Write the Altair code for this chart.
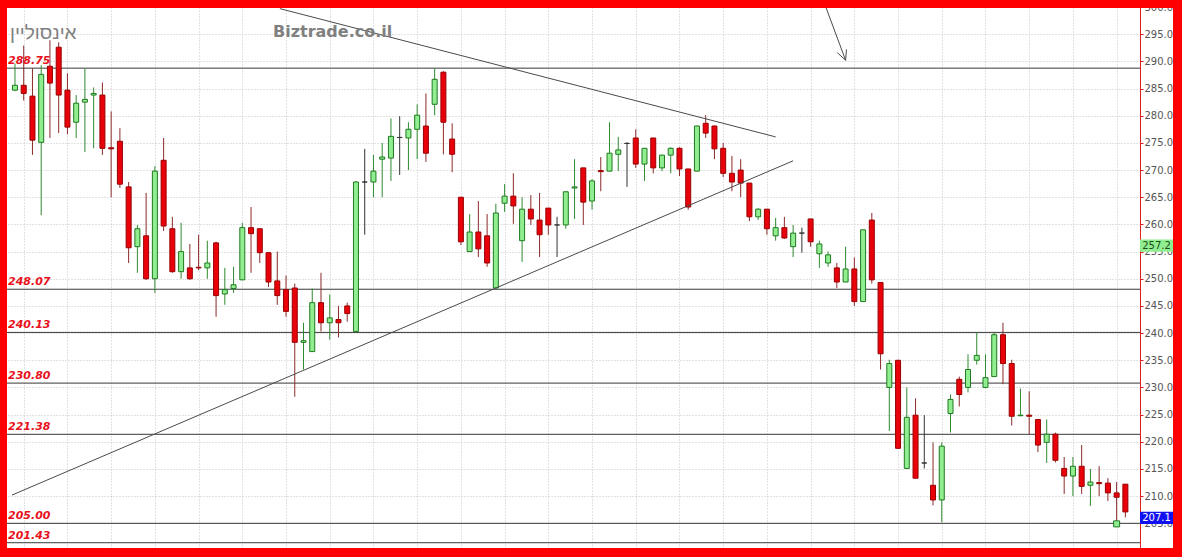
import altair as alt
import pandas as pd

# ---- daily candles (index, open, high, low, close) ----
opens = [284.7, 285.6, 283.6, 275.1, 289.1, 292.6, 284.7, 278.8, 282.5, 283.8,
         283.8, 274.1, 275.3, 266.9, 255.9, 257.9, 250.0, 271.8, 259.2, 251.3,
         252.0, 252.1, 252.0, 256.6, 247.2, 248.2, 249.8, 259.4, 259.2, 254.8,
         249.6, 248.0, 248.3, 238.3, 236.6, 245.6, 241.9, 242.5, 245.0, 240.3,
         267.8, 267.8, 272.0, 272.2, 276.0, 275.9, 277.5, 278.1, 282.1, 288.0,
         275.7, 265.0, 255.0, 258.6, 257.9, 248.3, 263.9, 265.2, 257.0, 262.8,
         260.8, 263.0, 259.9, 259.9, 266.7, 270.4, 264.3, 269.9, 269.8, 272.9,
         274.9, 275.9, 271.1, 275.9, 270.4, 272.75, 274.0, 270.2, 269.8, 278.6,
         278.1, 274.0, 269.4, 270.0, 267.6, 261.4, 262.8, 257.9, 259.4, 255.9,
         258.4, 261.0, 254.6, 252.9, 252.0, 249.4, 251.8, 245.8, 260.8, 249.3,
         230.0, 235.0, 215.1, 224.9, 216.1, 212.0, 209.3, 225.2, 231.5, 230.0,
         235.0, 230.0, 232.0, 239.7, 234.4, 224.8, 224.9, 224.1, 219.9, 221.4,
         215.1, 213.7, 215.5, 212.0, 212.5, 212.4, 210.6, 212.2]
highs = [289.6, 292.9, 288.7, 289.3, 293.9, 293.5, 287.8, 283.8, 288.7, 285.2,
         286.1, 280.8, 277.7, 267.8, 259.9, 265.8, 270.7, 275.9, 261.4, 260.3,
         256.4, 258.1, 257.0, 256.8, 252.0, 252.2, 260.3, 263.2, 259.2, 254.8,
         255.0, 250.6, 249.1, 241.9, 248.2, 251.1, 247.1, 245.0, 245.6, 268.0,
         273.9, 272.8, 275.0, 279.5, 279.9, 278.8, 282.1, 284.1, 288.7, 288.2,
         278.6, 265.0, 261.9, 264.3, 261.9, 263.8, 267.4, 269.4, 265.0, 265.4,
         265.8, 263.0, 261.4, 266.1, 272.0, 270.4, 268.3, 272.4, 278.8, 276.1,
         275.1, 277.5, 274.0, 275.9, 272.8, 274.2, 274.2, 270.2, 278.2, 280.1,
         278.2, 275.0, 272.6, 272.0, 267.6, 263.0, 262.8, 261.2, 261.4, 259.9,
         259.4, 261.0, 257.0, 255.0, 252.9, 255.9, 253.9, 259.0, 262.1, 249.3,
         235.1, 235.0, 230.0, 228.0, 224.9, 219.9, 219.9, 228.7, 232.0, 236.1,
         240.1, 236.1, 240.1, 241.9, 235.1, 229.8, 229.3, 224.1, 224.1, 221.7,
         217.2, 217.2, 219.4, 215.0, 215.5, 213.3, 212.6, 212.2]
lows = [284.5, 282.8, 272.8, 261.7, 275.9, 276.8, 276.6, 275.9, 273.3, 274.0,
        272.8, 265.0, 266.7, 252.9, 251.1, 249.8, 247.4, 258.8, 251.1, 250.0,
        249.8, 251.6, 250.0, 243.0, 245.2, 247.4, 249.8, 251.1, 252.9, 248.5,
        245.2, 243.0, 228.3, 233.3, 236.6, 240.3, 238.8, 239.2, 242.1, 240.2,
        258.1, 265.0, 265.0, 268.0, 269.1, 270.0, 272.0, 271.5, 280.1, 272.9,
        269.6, 256.2, 255.0, 254.0, 252.2, 248.2, 262.3, 260.1, 253.1, 259.9,
        254.0, 258.1, 254.0, 259.2, 261.0, 259.9, 262.7, 266.1, 269.8, 269.8,
        266.9, 270.4, 268.0, 269.4, 269.8, 269.4, 268.9, 262.7, 269.8, 275.9,
        272.0, 268.7, 266.1, 265.0, 260.6, 260.8, 258.1, 257.0, 257.3, 254.0,
        254.8, 255.9, 252.0, 252.2, 248.3, 249.4, 245.0, 245.8, 249.1, 233.3,
        222.0, 218.8, 215.1, 213.3, 215.1, 208.3, 205.2, 221.7, 226.5, 229.1,
        234.2, 230.0, 232.0, 230.6, 223.0, 224.7, 221.4, 218.1, 216.1, 216.2,
        210.4, 210.0, 210.4, 208.2, 210.0, 209.1, 204.7, 206.1]
closes = [285.6, 284.1, 275.5, 287.6, 286.0, 283.8, 277.9, 282.3, 283.0, 284.1,
          274.0, 273.9, 267.4, 255.7, 259.2, 250.0, 269.8, 259.7, 251.3, 255.0,
          250.0, 252.0, 252.9, 246.9, 248.0, 248.9, 259.4, 258.3, 254.8, 249.4,
          246.9, 244.0, 238.3, 238.6, 245.6, 241.9, 242.8, 241.9, 243.6, 267.8,
          267.8, 269.8, 272.4, 276.2, 276.0, 277.5, 280.1, 273.1, 286.7, 278.8,
          272.9, 256.8, 258.6, 255.5, 252.9, 262.1, 265.2, 263.4, 262.8, 261.0,
          258.1, 259.9, 259.9, 266.0, 266.9, 264.1, 268.0, 269.7, 273.1, 273.7,
          274.9, 271.1, 274.0, 270.4, 272.75, 274.0, 270.2, 263.2, 278.1, 276.8,
          273.9, 269.4, 267.8, 267.6, 261.4, 262.8, 259.2, 259.4, 257.5, 258.4,
          258.4, 256.8, 256.4, 254.4, 249.4, 251.8, 245.8, 259.0, 249.8, 236.2,
          234.4, 218.8, 224.5, 213.3, 216.1, 209.3, 219.2, 227.8, 228.7, 233.3,
          235.9, 231.8, 239.7, 234.4, 224.7, 224.9, 224.7, 219.4, 221.4, 216.6,
          213.7, 215.5, 211.8, 212.6, 212.3, 210.6, 209.8, 207.1]

# ---- horizontal support / resistance levels ----
levels = [288.75, 248.07, 240.13, 230.80, 221.38, 205.00, 201.43]
level_text = ["288.75", "248.07", "240.13", "230.80", "221.38", "205.00", "201.43"]

# ---- hand-drawn studies: (candle index, price) ----
rising_line_i = [-0.34, 89.0]
rising_line_v = [210.2, 271.7]
falling_line_i = [30.3, 87.0]
falling_line_v = [299.7, 276.1]
arrow_shaft_i = [92.6, 95.0]
arrow_shaft_v = [300.6, 290.2]
arrow_head_i = [94.05, 95.0, 95.1]
arrow_head_v = [291.6, 290.2, 292.2]

# ---- price flags on the scale ----
flag_values = [257.2, 207.1]
flag_text = ["257.2", "207.1"]
low_marker_i = [126]
low_marker_v = [204.9]

W, H = 1133, 541

candles = pd.DataFrame({"i": list(range(len(opens))), "open": opens, "high": highs,
                        "low": lows, "close": closes})
up_col = ("#90ee90", "#1f7a1f", "#2f8a2f")
dn_col = ("#e8000b", "#9a0000", "#8b2a2a")
fl_col = ("#444444", "#333333", "#333333")


def style(o, c):
    return up_col if c > o else (dn_col if c < o else fl_col)


candles["fill"] = [style(o, c)[0] for o, c in zip(opens, closes)]
candles["edge"] = [style(o, c)[1] for o, c in zip(opens, closes)]
candles["wick"] = [style(o, c)[2] for o, c in zip(opens, closes)]

x_scale = alt.Scale(domain=[-0.34, 128.1], nice=False, zero=False)
y_scale = alt.Scale(domain=[200.46, 300.0], nice=False, zero=False)
x_axis = alt.Axis(values=list(range(1, 128, 5)), labels=False, ticks=False, domain=False,
                  grid=True, gridColor="#c4c4c4", gridDash=[1, 2], title=None)
y_axis = alt.Axis(orient="right", values=list(range(205, 301, 5)), format=".1f",
                  grid=True, gridColor="#c4c4c4", gridDash=[1, 2],
                  domainColor="#e02020", tickColor="#e02020", tickSize=3,
                  labelPadding=1, labelFont="DejaVu Sans", labelFontSize=10,
                  labelColor="#555555", labelOverlap=False, title=None, zindex=0)


def X(f):
    return alt.X(f, type="quantitative", scale=x_scale, axis=x_axis)


def Y(f):
    return alt.Y(f, type="quantitative", scale=y_scale, axis=y_axis)


one = pd.DataFrame({"k": [0]})

level_df = pd.DataFrame({"level": levels, "txt": level_text})
level_rules = alt.Chart(level_df).mark_rule(color="#383838", strokeWidth=1).encode(y=Y("level"))
level_labels = alt.Chart(level_df).mark_text(
    align="left", baseline="alphabetic", dy=-4, font="DejaVu Sans", fontSize=11,
    fontWeight="bold", fontStyle="italic", color="#e8101a"
).encode(x=alt.value(1), y=Y("level"), text="txt:N")

wicks = alt.Chart(candles).mark_rule(strokeWidth=1).encode(
    x=X("i"), y=Y("low"), y2="high", color=alt.Color("wick:N", scale=None))
bodies = alt.Chart(candles).mark_bar(size=5, strokeWidth=1).encode(
    x=X("i"), y=Y("open"), y2="close",
    fill=alt.Fill("fill:N", scale=None), stroke=alt.Stroke("edge:N", scale=None))

rows = []
for name, xs_, vs_ in [("rise", rising_line_i, rising_line_v),
                       ("fall", falling_line_i, falling_line_v),
                       ("shaft", arrow_shaft_i, arrow_shaft_v),
                       ("head", arrow_head_i, arrow_head_v)]:
    for k, (a, b) in enumerate(zip(xs_, vs_)):
        rows.append({"seg": name, "ord": k, "i": a, "v": b})
study_df = pd.DataFrame(rows)
studies = alt.Chart(study_df).mark_line(color="#4a4a4a", strokeWidth=1, clip=True).encode(
    x=X("i"), y=Y("v"), detail="seg:N", order="ord:Q")

marker = alt.Chart(pd.DataFrame({"i": low_marker_i, "v": low_marker_v})).mark_point(
    shape="square", filled=True, fill="#90ee90", stroke="#1f7a1f", strokeWidth=1,
    size=36, opacity=1).encode(x=X("i"), y=Y("v"))

box_shape = "M-1,-0.375L1,-0.375L1,0.375L-1,0.375Z"


def flag(value, text, bg, fg):
    d = pd.DataFrame({"v": [value], "t": [text]})
    box = alt.Chart(d).mark_point(shape=box_shape, size=1089, filled=True, fill=bg,
                                  opacity=1, yOffset=6).encode(
        x=alt.value(W + 16.5), y=Y("v"))
    lab = alt.Chart(d).mark_text(font="DejaVu Sans", fontSize=10, color=fg,
                                 baseline="middle", align="center", dy=6).encode(
        x=alt.value(W + 16.5), y=Y("v"), text="t:N")
    return [box, lab]


flags = flag(flag_values[0], flag_text[0], "#90ee90", "#1a4d1a") + \
    flag(flag_values[1], flag_text[1], "#1010f0", "#ffffff")

name_text = alt.Chart(one).mark_text(
    text="אינסוליין", align="left", baseline="middle", font="Liberation Sans",
    fontSize=19, color="#808080").encode(x=alt.value(3), y=alt.value(26))
site_text = alt.Chart(one).mark_text(
    text="Biztrade.co.il", align="left", baseline="middle", font="DejaVu Sans",
    fontSize=16, fontWeight="bold", color="#808080").encode(x=alt.value(266), y=alt.value(25))


def band(x0, x1, y0, y1):
    return alt.Chart(one).mark_rect(color="#ff0000").encode(
        x=alt.value(x0), x2=alt.value(x1), y=alt.value(y0), y2=alt.value(y1))


frame = [band(-7, W + 42, -7, 1), band(-7, 0, -7, H + 9),
         band(-7, W + 42, H, H + 9), band(W + 33, W + 42, -7, H + 9)]

chart = alt.layer(
    level_rules, wicks, bodies, studies, marker, level_labels, *flags,
    name_text, site_text, *frame
).properties(
    width=W, height=H, autosize="none", background="white",
    padding={"left": 7, "top": 7, "right": 42, "bottom": 9}
).configure_view(stroke=None)

chart.save("out.html", embed_options={"renderer": "svg", "actions": False})
